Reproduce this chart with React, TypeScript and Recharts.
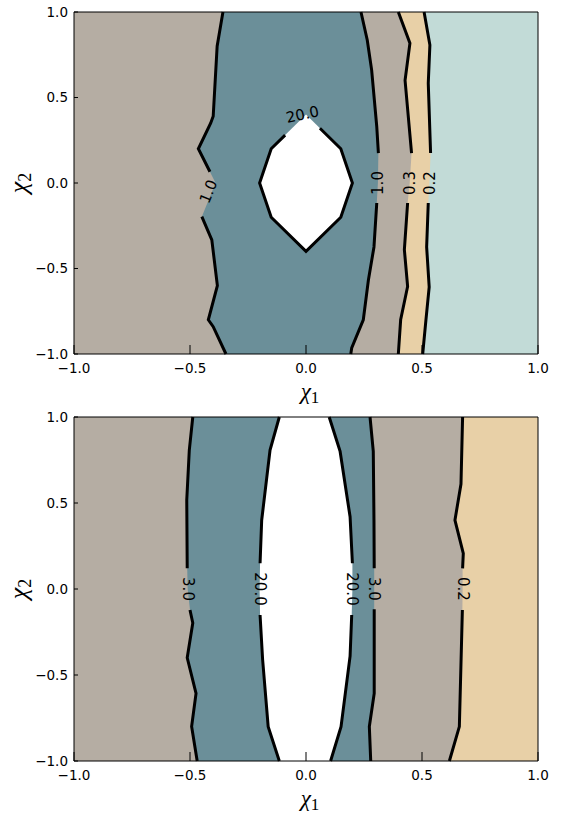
import { ComposedChart, Area, Line, XAxis, YAxis, ReferenceDot, CartesianGrid } from 'recharts';

type Pt = { y: number; x: number };
type Contour = { upper: Pt[]; hidden: Pt[]; lower: Pt[] };

const TICKS = [-1, -0.5, 0, 0.5, 1];

const GRAY = '#b5ada3';
const TEAL = '#6b8f99';
const TAN = '#e8d0a7';
const ICE = '#c2dbd7';

// top panel: contour lines, each listed from y = 1 down to y = -1
// "hidden" points sit under the inline label where the line is broken
const topLeft1: Contour = {
  upper: [
    { y: 1, x: -0.358 }, { y: 0.8, x: -0.383 }, { y: 0.39, x: -0.4 },
    { y: 0.35, x: -0.411 }, { y: 0.2, x: -0.464 }, { y: 0.066, x: -0.414 },
  ],
  hidden: [{ y: 0, x: -0.39 }],
  lower: [
    { y: -0.197, x: -0.449 }, { y: -0.333, x: -0.406 }, { y: -0.6, x: -0.382 },
    { y: -0.8, x: -0.421 }, { y: -0.84, x: -0.4 }, { y: -1, x: -0.345 },
  ],
};

const topRight1: Contour = {
  upper: [
    { y: 1, x: 0.237 }, { y: 0.836, x: 0.264 }, { y: 0.66, x: 0.283 },
    { y: 0.33, x: 0.305 }, { y: 0.175, x: 0.312 },
  ],
  hidden: [{ y: 0, x: 0.31 }],
  lower: [
    { y: -0.117, x: 0.305 }, { y: -0.374, x: 0.293 }, { y: -0.567, x: 0.269 },
    { y: -0.8, x: 0.247 }, { y: -0.965, x: 0.197 }, { y: -1, x: 0.193 },
  ],
};

const top03: Contour = {
  upper: [{ y: 1, x: 0.398 }, { y: 0.817, x: 0.448 }, { y: 0.6, x: 0.427 }, { y: 0.175, x: 0.455 }],
  hidden: [{ y: 0, x: 0.447 }],
  lower: [
    { y: -0.117, x: 0.438 }, { y: -0.39, x: 0.424 }, { y: -0.605, x: 0.438 },
    { y: -0.8, x: 0.408 }, { y: -1, x: 0.398 },
  ],
};

const top02: Contour = {
  upper: [{ y: 1, x: 0.509 }, { y: 0.807, x: 0.534 }, { y: 0.583, x: 0.527 }, { y: 0.175, x: 0.537 }],
  hidden: [{ y: 0, x: 0.532 }],
  lower: [
    { y: -0.117, x: 0.527 }, { y: -0.374, x: 0.52 }, { y: -0.608, x: 0.531 },
    { y: -0.8, x: 0.517 }, { y: -1, x: 0.503 },
  ],
};

// the 20.0 island in the top panel
const topHole = [
  { y: 0.4, lo: 0, hi: 0 },
  { y: 0.2, lo: -0.15, hi: 0.15 },
  { y: 0, lo: -0.2, hi: 0.2 },
  { y: -0.2, lo: -0.15, hi: 0.15 },
  { y: -0.4, lo: 0, hi: 0 },
];
const topHoleOutline: Pt[] = [
  { y: 0.28, x: -0.09 }, { y: 0.2, x: -0.15 }, { y: 0, x: -0.2 }, { y: -0.2, x: -0.15 },
  { y: -0.4, x: 0 }, { y: -0.2, x: 0.15 }, { y: 0, x: 0.2 }, { y: 0.2, x: 0.15 }, { y: 0.32, x: 0.06 },
];

const topLabels = [
  { x: -0.42, y: -0.05, text: '1.0', angle: -68 },
  { x: -0.015, y: 0.4, text: '20.0', angle: -12 },
  { x: 0.31, y: 0, text: '1.0', angle: -90 },
  { x: 0.448, y: 0, text: '0.3', angle: -90 },
  { x: 0.533, y: 0, text: '0.2', angle: -90 },
];

// bottom panel
const botLeft3: Contour = {
  upper: [{ y: 1, x: -0.488 }, { y: 0.808, x: -0.503 }, { y: 0.517, x: -0.514 }, { y: 0.12, x: -0.512 }],
  hidden: [{ y: 0, x: -0.51 }],
  lower: [
    { y: -0.122, x: -0.5 }, { y: -0.198, x: -0.488 }, { y: -0.4, x: -0.512 },
    { y: -0.607, x: -0.474 }, { y: -0.8, x: -0.493 }, { y: -1, x: -0.469 },
  ],
};

const botLeft20: Contour = {
  upper: [{ y: 1, x: -0.115 }, { y: 0.808, x: -0.155 }, { y: 0.4, x: -0.191 }, { y: 0.15, x: -0.198 }],
  hidden: [{ y: 0, x: -0.2 }],
  lower: [{ y: -0.151, x: -0.198 }, { y: -0.41, x: -0.187 }, { y: -0.8, x: -0.163 }, { y: -1, x: -0.115 }],
};

const botRight20: Contour = {
  upper: [{ y: 1, x: 0.1 }, { y: 0.8, x: 0.147 }, { y: 0.42, x: 0.19 }, { y: 0.15, x: 0.2 }],
  hidden: [{ y: 0, x: 0.2 }],
  lower: [{ y: -0.151, x: 0.197 }, { y: -0.39, x: 0.19 }, { y: -0.8, x: 0.151 }, { y: -1, x: 0.106 }],
};

const botRight3: Contour = {
  upper: [{ y: 1, x: 0.276 }, { y: 0.8, x: 0.29 }, { y: 0.4, x: 0.293 }, { y: 0.12, x: 0.294 }],
  hidden: [{ y: 0, x: 0.294 }],
  lower: [{ y: -0.118, x: 0.294 }, { y: -0.607, x: 0.294 }, { y: -0.8, x: 0.273 }, { y: -1, x: 0.279 }],
};

const bot02: Contour = {
  upper: [
    { y: 1, x: 0.675 }, { y: 0.61, x: 0.668 }, { y: 0.4, x: 0.642 },
    { y: 0.207, x: 0.678 }, { y: 0.12, x: 0.675 },
  ],
  hidden: [{ y: 0, x: 0.675 }],
  lower: [{ y: -0.122, x: 0.674 }, { y: -0.8, x: 0.661 }, { y: -1, x: 0.618 }],
};

const botLabels = [
  { x: -0.51, y: 0, text: '3.0', angle: 90 },
  { x: -0.2, y: 0, text: '20.0', angle: 90 },
  { x: 0.2, y: 0, text: '20.0', angle: 90 },
  { x: 0.294, y: 0, text: '3.0', angle: 90 },
  { x: 0.675, y: 0, text: '0.2', angle: 90 },
];

const full = (c: Contour) => [...c.upper, ...c.hidden, ...c.lower];
const fmt = (v: number) => v.toFixed(1).replace('-', '\u2212');

function XTick({ x, y, payload }: any) {
  return (
    <g>
      <line x1={x} x2={x} y1={y} y2={y - 9} stroke="#000" />
      <text x={x} y={y + 19} textAnchor="middle" fontSize={13.5} fontFamily="DejaVu Sans" fill="#000">
        {fmt(payload.value)}
      </text>
    </g>
  );
}

function YTick({ x, y, payload }: any) {
  return (
    <g>
      <line x1={x} x2={x + 4} y1={y} y2={y} stroke="#000" />
      <text x={x - 6} y={y} dy="0.36em" textAnchor="end" fontSize={13.5} fontFamily="DejaVu Sans" fill="#000">
        {fmt(payload.value)}
      </text>
    </g>
  );
}

function XTitle({ viewBox }: any) {
  const cx = viewBox.x + viewBox.width / 2 + 4;
  const by = viewBox.y + 45;
  return (
    <text x={cx} y={by} textAnchor="middle" fontFamily="Liberation Serif" fill="#000">
      <tspan fontSize={23} fontStyle="italic">χ</tspan>
      <tspan fontSize={17} dy={4}>1</tspan>
    </text>
  );
}

function YTitle({ viewBox }: any) {
  const cx = 27;
  const cy = viewBox.y + viewBox.height / 2;
  return (
    <text x={cx} y={cy} textAnchor="middle" transform={`rotate(-90 ${cx} ${cy})`} fontFamily="Liberation Serif" fill="#000">
      <tspan fontSize={26} fontStyle="italic">χ</tspan>
      <tspan fontSize={18} dy={4}>2</tspan>
    </text>
  );
}

function ContourLabel({ cx, cy, text, angle }: any) {
  return (
    <text
      x={cx}
      y={cy}
      transform={`rotate(${angle} ${cx} ${cy})`}
      textAnchor="middle"
      dominantBaseline="central"
      fontSize={15}
      fontFamily="DejaVu Sans"
      fill="#000"
    >
      {text}
    </text>
  );
}

interface PanelProps {
  height: number;
  top: number;
  background: string;
  bands: { contour: Contour; fill: string }[];
  contours: Contour[];
  hole?: { y: number; lo: number; hi: number }[];
  holeOutline?: Pt[];
  labels: { x: number; y: number; text: string; angle: number }[];
}

function Panel({ height, top, background, bands, contours, hole, holeOutline, labels }: PanelProps) {
  return (
    <ComposedChart layout="vertical" width={562} height={height} margin={{ top, right: 24, bottom: 0, left: 0 }}>
      <CartesianGrid fill={background} fillOpacity={1} horizontal={false} vertical={false} />
      {bands.map((b, i) => (
        <Area
          key={`band-${i}`}
          data={full(b.contour)}
          dataKey="x"
          type="linear"
          baseValue="dataMin"
          fill={b.fill}
          fillOpacity={1}
          stroke="none"
          isAnimationActive={false}
        />
      ))}
      {hole && (
        <Area
          data={hole}
          dataKey={(d: any) => [d.lo, d.hi]}
          type="linear"
          fill="#fff"
          fillOpacity={1}
          stroke="none"
          isAnimationActive={false}
        />
      )}
      {contours.flatMap((c, i) => [
        <Line key={`up-${i}`} data={c.upper} dataKey="x" type="linear" stroke="#000" strokeWidth={3}
          dot={false} activeDot={false} isAnimationActive={false} />,
        <Line key={`lo-${i}`} data={c.lower} dataKey="x" type="linear" stroke="#000" strokeWidth={3}
          dot={false} activeDot={false} isAnimationActive={false} />,
      ])}
      {holeOutline && (
        <Line data={holeOutline} dataKey="x" type="linear" stroke="#000" strokeWidth={3}
          dot={false} activeDot={false} isAnimationActive={false} />
      )}
      {labels.map((l, i) => (
        <ReferenceDot
          key={`lab-${i}`}
          x={l.x}
          y={l.y}
          r={0}
          shape={(p: any) => <ContourLabel cx={p.cx} cy={p.cy} text={l.text} angle={l.angle} />}
        />
      ))}
      <XAxis
        type="number"
        domain={[-1, 1]}
        ticks={TICKS}
        height={52}
        tickSize={0}
        tickMargin={0}
        tickLine={false}
        tick={<XTick />}
        axisLine={{ stroke: '#000' }}
        label={<XTitle />}
      />
      <XAxis
        xAxisId="top"
        orientation="top"
        mirror
        type="number"
        domain={[-1, 1]}
        ticks={TICKS}
        height={1}
        tick={false}
        tickSize={9}
        tickLine={{ stroke: '#000' }}
        axisLine={{ stroke: '#000' }}
      />
      <YAxis
        type="number"
        dataKey="y"
        reversed
        domain={[-1, 1]}
        ticks={TICKS}
        width={74}
        tickSize={0}
        tickMargin={0}
        tickLine={false}
        tick={<YTick />}
        axisLine={{ stroke: '#000' }}
        label={<YTitle />}
      />
      <YAxis
        yAxisId="right"
        orientation="right"
        mirror
        reversed
        type="number"
        dataKey="y"
        domain={[-1, 1]}
        ticks={TICKS}
        width={1}
        tick={false}
        tickSize={4}
        tickLine={{ stroke: '#000' }}
        axisLine={{ stroke: '#000' }}
      />
    </ComposedChart>
  );
}

export default function App() {
  return (
    <div style={{ position: 'absolute', left: 0, top: 0, width: 562, height: 813, background: '#fff' }}>
      <Panel
        height={406}
        top={12}
        background={ICE}
        bands={[
          { contour: top02, fill: TAN },
          { contour: top03, fill: GRAY },
          { contour: topRight1, fill: TEAL },
          { contour: topLeft1, fill: GRAY },
        ]}
        contours={[topLeft1, topRight1, top03, top02]}
        hole={topHole}
        holeOutline={topHoleOutline}
        labels={topLabels}
      />
      <Panel
        height={407}
        top={11}
        background={TAN}
        bands={[
          { contour: bot02, fill: GRAY },
          { contour: botRight3, fill: TEAL },
          { contour: botRight20, fill: '#fff' },
          { contour: botLeft20, fill: TEAL },
          { contour: botLeft3, fill: GRAY },
        ]}
        contours={[botLeft3, botLeft20, botRight20, botRight3, bot02]}
        labels={botLabels}
      />
    </div>
  );
}
